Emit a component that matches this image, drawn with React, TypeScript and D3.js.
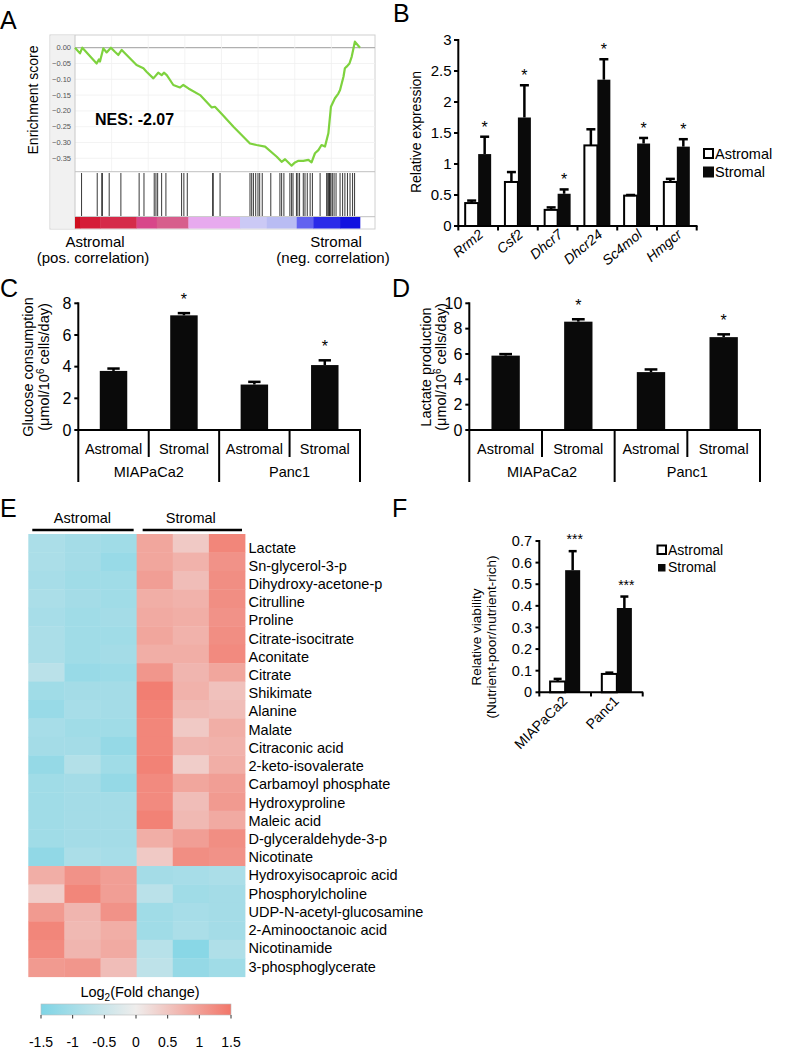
import React from "react";
import * as d3 from "d3";

const FONT = '"Liberation Sans", Arial, Helvetica, sans-serif';

// ---------- Panel A: GSEA ----------
const ES_POINTS: [number, number][] = [
  [0, 0], [1.75, -0.018], [2.57, 0], [7.6, -0.05], [8.42, -0.037], [8.77, -0.044],
  [9.94, -0.002], [11.1, -0.015], [12.6, 0], [14.0, -0.013], [15.2, -0.023], [16.4, -0.007],
  [21.6, -0.055], [24.0, -0.065], [25.1, -0.076], [27.5, -0.097], [29.2, -0.079], [30.4, -0.087],
  [31.2, -0.079], [32.2, -0.087], [34.5, -0.118], [36.8, -0.126], [38.0, -0.118], [39.8, -0.129],
  [43.9, -0.15], [48.0, -0.189], [49.1, -0.187], [51.5, -0.21], [55.6, -0.25], [61.4, -0.303],
  [63.7, -0.308], [66.7, -0.313], [70.8, -0.345], [72.5, -0.361], [73.7, -0.353], [75.4, -0.368],
  [76.0, -0.373], [77.2, -0.363], [78.4, -0.358], [80.1, -0.358], [81.9, -0.355], [83.0, -0.363],
  [84.2, -0.334], [85.4, -0.324], [86.5, -0.308], [87.7, -0.313], [88.9, -0.271], [89.8, -0.187],
  [91.2, -0.16], [92.4, -0.145], [93.0, -0.134], [94.2, -0.092], [94.7, -0.065], [95.3, -0.06],
  [96.3, -0.05], [97.1, -0.028], [98.2, 0.019], [100, 0],
];
const HIT_RANKS = [
  2.3, 7.8, 9.4, 9.6, 12.0, 16.1, 22.5, 24.2, 27.8, 28.4, 29.0, 30.4, 31.9, 37.4, 38.2, 39.4,
  48.3, 48.5, 50.9, 61.4, 62.0, 62.6, 63.4, 64.2, 64.8, 65.7, 68.7, 71.9, 72.5, 73.3, 75.4, 76.0,
  76.5, 77.7, 78.2, 78.8, 80.1, 80.7, 81.5, 82.5, 83.3, 86.0, 88.3, 88.7, 89.0, 89.3, 89.5, 89.8,
  90.3, 90.9, 91.6, 93.0, 93.9, 94.7, 95.6, 96.5, 97.4, 98.1,
];
const RANK_STOPS = [0, 1.75, 8.8, 21.6, 28.7, 39.8, 57.9, 67.3, 77.8, 83.6, 93.0, 100];
const RANK_COLORS = [
  "#cf0f1f", "#d51d38", "#d52b4a", "#d8468a", "#d75e8c", "#e7aaee",
  "#cbc9f5", "#b9bcf3", "#6262f0", "#2a2ae9", "#1212e0",
];
const ES_TICKS = [0, -0.05, -0.1, -0.15, -0.2, -0.25, -0.3, -0.35];
const ES_GRID = [12.85, 25.7, 38.55, 51.4, 64.25, 77.1, 89.95];

// ---------- Panel B ----------
const GENES = ["Rrm2", "Csf2", "Dhcr7", "Dhcr24", "Sc4mol", "Hmgcr"];
const B_ASTROMAL = [0.37, 0.71, 0.26, 1.3, 0.49, 0.71];
const B_ASTROMAL_ERR = [0.04, 0.16, 0.04, 0.26, 0.01, 0.05];
const B_STROMAL = [1.16, 1.75, 0.52, 2.36, 1.33, 1.28];
const B_STROMAL_ERR = [0.28, 0.52, 0.07, 0.33, 0.09, 0.12];
const B_TICKS = [0, 0.5, 1, 1.5, 2, 2.5, 3];

// ---------- Panels C & D ----------
const CONDITIONS = ["Astromal", "Stromal"];
const CELL_LINES = ["MIAPaCa2", "Panc1"];
const GLUCOSE = [3.73, 7.24, 2.87, 4.1];
const GLUCOSE_ERR = [0.15, 0.14, 0.17, 0.3];
const GLUCOSE_SIG = [false, true, false, true];
const GLUCOSE_TICKS = [0, 2, 4, 6, 8];
const LACTATE = [5.87, 8.55, 4.57, 7.33];
const LACTATE_ERR = [0.12, 0.19, 0.21, 0.22];
const LACTATE_SIG = [false, true, false, true];
const LACTATE_TICKS = [0, 2, 4, 6, 8, 10];

// ---------- Panel E ----------
const METABOLITES = [
  "Lactate", "Sn-glycerol-3-p", "Dihydroxy-acetone-p", "Citrulline", "Proline",
  "Citrate-isocitrate", "Aconitate", "Citrate", "Shikimate", "Alanine", "Malate",
  "Citraconic acid", "2-keto-isovalerate", "Carbamoyl phosphate", "Hydroxyproline",
  "Maleic acid", "D-glyceraldehyde-3-p", "Nicotinate", "Hydroxyisocaproic acid",
  "Phosphorylcholine", "UDP-N-acetyl-glucosamine", "2-Aminooctanoic acid",
  "Nicotinamide", "3-phosphoglycerate",
];
const SAMPLES = ["A1", "A2", "A3", "S1", "S2", "S3"];
const FOLD_CHANGE = [
  [-0.9, -1.0, -1.05, 0.9, 0.45, 1.3],
  [-0.9, -1.0, -1.15, 0.9, 0.75, 1.15],
  [-0.95, -1.05, -1.05, 1.0, 0.6, 1.2],
  [-0.9, -1.0, -1.05, 0.8, 0.75, 1.2],
  [-0.95, -1.05, -1.0, 0.85, 0.8, 1.15],
  [-0.9, -1.05, -1.05, 0.9, 0.75, 1.2],
  [-0.9, -1.05, -1.0, 0.8, 0.8, 1.25],
  [-0.7, -1.15, -1.1, 1.1, 0.7, 0.9],
  [-1.05, -1.0, -1.0, 1.4, 0.75, 0.55],
  [-1.15, -0.95, -1.0, 1.35, 0.65, 0.6],
  [-0.95, -1.05, -1.05, 1.3, 0.45, 0.8],
  [-1.0, -1.0, -1.2, 1.3, 0.7, 0.75],
  [-1.2, -0.8, -1.05, 1.35, 0.4, 0.8],
  [-1.05, -1.0, -1.2, 1.25, 0.9, 1.0],
  [-1.05, -1.0, -1.0, 1.25, 0.6, 1.05],
  [-1.05, -1.0, -1.0, 1.35, 0.65, 0.85],
  [-1.05, -1.0, -1.0, 0.8, 1.0, 1.2],
  [-1.25, -0.9, -0.95, 0.45, 1.2, 1.15],
  [0.8, 1.15, 1.0, -1.0, -0.95, -0.9],
  [0.4, 1.3, 1.0, -0.7, -1.05, -1.0],
  [1.05, 0.7, 1.15, -1.05, -0.95, -1.0],
  [1.3, 0.65, 0.8, -1.05, -0.9, -1.0],
  [1.25, 0.7, 0.85, -0.75, -1.35, -0.85],
  [1.05, 1.1, 0.6, -0.65, -1.2, -1.05],
];
const COLOR_TICKS = [-1.5, -1, -0.5, 0, 0.5, 1, 1.5];

// ---------- Panel F ----------
const F_ASTROMAL = [0.05, 0.085];
const F_ASTROMAL_ERR = [0.012, 0.006];
const F_STROMAL = [0.565, 0.39];
const F_STROMAL_ERR = [0.088, 0.053];
const F_TICKS = [0, 0.1, 0.2, 0.3, 0.4, 0.5, 0.6, 0.7];

function ErrBar({ cx, y1, y2, w }: { cx: number; y1: number; y2: number; w: number }) {
  return (
    <g stroke="#000" strokeWidth={2.5}>
      <line x1={cx} x2={cx} y1={y1} y2={y2} />
      <line x1={cx - w / 2} x2={cx + w / 2} y1={y2} y2={y2} />
    </g>
  );
}

function PanelA() {
  const xA = d3.scaleLinear().domain([0, 100]).range([75, 360]);
  const yA = d3.scaleLinear().domain([-0.35, 0]).range([158.3, 47.7]);
  const line = d3.line<[number, number]>().x((d) => xA(d[0])).y((d) => yA(d[1]));
  return (
    <g>
      <rect x={50} y={35} width={325} height={194} fill="#fff" stroke="#d0d0d0" />
      <rect x={50.5} y={35.5} width={24.5} height={193} fill="#f1f1f1" />
      {ES_TICKS.map((t) => (
        <line key={t} x1={75} x2={375} y1={yA(t)} y2={yA(t)} stroke={t === 0 ? "#b0b0b0" : "#f0f0f0"} strokeWidth={t === 0 ? 1.2 : 0.8} />
      ))}
      {ES_GRID.map((g) => (
        <line key={g} x1={xA(g)} x2={xA(g)} y1={36} y2={171} stroke="#f0f0f0" strokeWidth={0.8} />
      ))}
      {ES_TICKS.map((t) => (
        <text key={"l" + t} x={71} y={yA(t)} dy="0.33em" fontSize={7.5} fill="#555" textAnchor="end">
          {t === 0 ? "0.00" : d3.format(".2f")(t)}
        </text>
      ))}
      <line x1={75} x2={75} y1={35} y2={229} stroke="#c8c8c8" />
      <line x1={75} x2={375} y1={171.7} y2={171.7} stroke="#c0c0c0" />
      <line x1={75} x2={375} y1={216.7} y2={216.7} stroke="#c0c0c0" />
      <path d={line(ES_POINTS) || ""} fill="none" stroke="#7ed23e" strokeWidth={2.2} strokeLinejoin="round" />
      {HIT_RANKS.map((r, i) => (
        <line key={i} x1={xA(r)} x2={xA(r)} y1={173} y2={216} stroke="#222" strokeWidth={0.9} />
      ))}
      {RANK_COLORS.map((c, i) => (
        <rect key={i} x={xA(RANK_STOPS[i])} y={217} width={xA(RANK_STOPS[i + 1]) - xA(RANK_STOPS[i]) + 0.3} height={11.5} fill={c} />
      ))}
      <text x={33} y={100} transform="rotate(-90 33 100)" textAnchor="middle" dy="0.35em" fontSize={14}>
        Enrichment score
      </text>
      <text x={95} y={125} fontSize={16} fontWeight="bold">NES: -2.07</text>
      <text x={95} y={247} fontSize={15} textAnchor="middle">Astromal</text>
      <text x={93} y={263} fontSize={15} textAnchor="middle">(pos. correlation)</text>
      <text x={336} y={247} fontSize={15} textAnchor="middle">Stromal</text>
      <text x={333} y={263} fontSize={15} textAnchor="middle">(neg. correlation)</text>
    </g>
  );
}

function PanelB() {
  const x = d3.scaleBand().domain(GENES).range([458.3, 696.7]);
  const sub = d3.scaleBand().domain(CONDITIONS).range([0, x.bandwidth()]).paddingOuter(0.53);
  const y = d3.scaleLinear().domain([0, 3]).range([226, 40]);
  const bw = sub.bandwidth();
  return (
    <g>
      {GENES.map((g, i) => {
        const xa = (x(g) || 0) + (sub("Astromal") || 0);
        const xs = (x(g) || 0) + (sub("Stromal") || 0);
        const errTop = y(B_STROMAL[i] + B_STROMAL_ERR[i]);
        return (
          <g key={g}>
            <rect x={xa} y={y(B_ASTROMAL[i])} width={bw} height={y(0) - y(B_ASTROMAL[i])} fill="#fff" stroke="#000" strokeWidth={2} />
            <ErrBar cx={xa + bw / 2} y1={y(B_ASTROMAL[i])} y2={y(B_ASTROMAL[i] + B_ASTROMAL_ERR[i])} w={9} />
            <rect x={xs} y={y(B_STROMAL[i])} width={bw} height={y(0) - y(B_STROMAL[i])} fill="#0a0a0a" />
            <ErrBar cx={xs + bw / 2} y1={y(B_STROMAL[i])} y2={errTop} w={9} />
            <text x={xs + bw / 2} y={errTop - 4} fontSize={16} textAnchor="middle">*</text>
            <text
              x={(x(g) || 0) + x.bandwidth() / 2 + 6}
              y={236}
              fontSize={14}
              fontStyle="italic"
              textAnchor="end"
              transform={`rotate(-40 ${(x(g) || 0) + x.bandwidth() / 2 + 6} 236)`}
            >
              {g}
            </text>
          </g>
        );
      })}
      <line x1={458.3} x2={458.3} y1={39} y2={227} stroke="#000" strokeWidth={2} />
      <line x1={457.3} x2={697.5} y1={226} y2={226} stroke="#000" strokeWidth={2} />
      {B_TICKS.map((t) => (
        <g key={t}>
          <line x1={454} x2={458.3} y1={y(t)} y2={y(t)} stroke="#000" strokeWidth={2} />
          <text x={451.5} y={y(t)} dy="0.35em" fontSize={15} textAnchor="end">{t}</text>
        </g>
      ))}
      {GENES.concat([""]).map((g, i) => {
        const xx = i < GENES.length ? x(g) || 0 : 696.7;
        return <line key={i} x1={xx} x2={xx} y1={226} y2={230.5} stroke="#000" strokeWidth={2} />;
      })}
      <text x={416} y={132} transform="rotate(-90 416 132)" textAnchor="middle" dy="0.35em" fontSize={14}>
        Relative expression
      </text>
      <rect x={704} y={149} width={9} height={9} fill="#fff" stroke="#000" strokeWidth={2} />
      <text x={715} y={158.5} fontSize={14.5}>Astromal</text>
      <rect x={703} y={166.5} width={11} height={11} fill="#0a0a0a" />
      <text x={715} y={177} fontSize={14.5}>Stromal</text>
    </g>
  );
}

function CategoryPanel(props: {
  x0: number; x1: number; y0: number; yTop: number; max: number; ticks: number[];
  values: number[]; errs: number[]; sig: boolean[]; labelX1: number; labelX2: number;
  label1: string;
}) {
  const { x0, x1, y0, yTop, max, ticks, values, errs, sig, labelX1, labelX2, label1 } = props;
  const cats = CELL_LINES.flatMap((c) => CONDITIONS.map((k) => c + "|" + k));
  const x = d3.scaleBand().domain(cats).range([x0, x1]);
  const y = d3.scaleLinear().domain([0, max]).range([y0, yTop]);
  const bw = x.bandwidth() * 0.39;
  const labelCY = 367;
  return (
    <g>
      {cats.map((c, i) => {
        const cx = (x(c) || 0) + x.bandwidth() / 2;
        const errTop = y(values[i] + errs[i]);
        return (
          <g key={c}>
            <rect x={cx - bw / 2} y={y(values[i])} width={bw} height={y0 - y(values[i])} fill="#0a0a0a" />
            <ErrBar cx={cx} y1={y(values[i])} y2={errTop} w={bw * 0.45} />
            {sig[i] && <text x={cx} y={errTop - 8} fontSize={16} textAnchor="middle">*</text>}
            <text x={cx} y={453.5} fontSize={14.5} textAnchor="middle">{c.split("|")[1]}</text>
            {i % 2 === 0 && (
              <line x1={(x(c) || 0) + x.bandwidth()} x2={(x(c) || 0) + x.bandwidth()} y1={y0} y2={457} stroke="#000" strokeWidth={2} />
            )}
          </g>
        );
      })}
      {CELL_LINES.map((cl, j) => {
        const left = x(cl + "|Astromal") || 0;
        const right = (x(cl + "|Stromal") || 0) + x.bandwidth();
        return (
          <g key={cl}>
            <text x={(left + right) / 2} y={477} fontSize={14.5} textAnchor="middle">{cl}</text>
            {j === 0 && <line x1={left} x2={left} y1={y0} y2={482} stroke="#000" strokeWidth={2} />}
            <line x1={right} x2={right} y1={y0} y2={482} stroke="#000" strokeWidth={2} />
          </g>
        );
      })}
      <line x1={x0} x2={x0} y1={yTop - 1} y2={y0} stroke="#000" strokeWidth={2} />
      <line x1={x0 - 1} x2={x1 + 1} y1={y0} y2={y0} stroke="#000" strokeWidth={2} />
      {ticks.map((t) => (
        <g key={t}>
          <line x1={x0 - 4} x2={x0} y1={y(t)} y2={y(t)} stroke="#000" strokeWidth={2} />
          <text x={x0 - 7} y={y(t)} dy="0.35em" fontSize={16} textAnchor="end">{t}</text>
        </g>
      ))}
      <text x={labelX1} y={labelCY} transform={`rotate(-90 ${labelX1} ${labelCY})`} textAnchor="middle" dy="0.35em" fontSize={14.5}>
        {label1}
      </text>
      <text x={labelX2} y={labelCY} transform={`rotate(-90 ${labelX2} ${labelCY})`} textAnchor="middle" dy="0.35em" fontSize={14.5}>
        (μmol/10<tspan dy="-5" fontSize={10}>6</tspan><tspan dy="5"> cells/day)</tspan>
      </text>
    </g>
  );
}

function PanelE() {
  const x = d3.scaleBand().domain(SAMPLES).range([28.3, 245]);
  const y = d3.scaleBand().domain(METABOLITES).range([534, 976.7]);
  const lab = d3.scalePoint().domain(METABOLITES).range([552.5, 971.5]);
  const color = d3.scaleLinear<string>().domain([-1.5, 0, 1.5]).range(["#7ed4e5", "#efedec", "#f27669"]);
  const cb = d3.scaleLinear().domain([-1.5, 1.5]).range([41, 231]);
  const bw = x.bandwidth();
  return (
    <g>
      <defs>
        <linearGradient id="cbgrad" x1="0" x2="1" y1="0" y2="0">
          {[-1.5, -0.75, 0, 0.75, 1.5].map((v) => (
            <stop key={v} offset={(v + 1.5) / 3} stopColor={color(v)} />
          ))}
        </linearGradient>
      </defs>
      {FOLD_CHANGE.map((row, i) =>
        row.map((v, j) => (
          <rect key={i + "-" + j} x={x(SAMPLES[j])} y={y(METABOLITES[i])} width={bw + 0.4} height={y.bandwidth() + 0.4} fill={color(v)} />
        ))
      )}
      {METABOLITES.map((m) => (
        <text key={m} x={248.5} y={lab(m)} fontSize={14.5}>{m}</text>
      ))}
      <line x1={(x("A1") || 0) + 4} x2={(x("A3") || 0) + bw - 3} y1={530} y2={530} stroke="#000" strokeWidth={2.5} />
      <line x1={(x("S1") || 0) + 6} x2={(x("S3") || 0) + bw - 3} y1={530} y2={530} stroke="#000" strokeWidth={2.5} />
      <text x={((x("A1") || 0) + (x("A3") || 0) + bw) / 2} y={523} fontSize={14.5} textAnchor="middle">Astromal</text>
      <text x={((x("S1") || 0) + (x("S3") || 0) + bw) / 2} y={523} fontSize={14.5} textAnchor="middle">Stromal</text>
      <text x={140} y={997} fontSize={14.5} textAnchor="middle">
        Log<tspan dy="4" fontSize={10}>2</tspan><tspan dy="-4">(Fold change)</tspan>
      </text>
      <rect x={cb(-1.5)} y={1004} width={cb(1.5) - cb(-1.5)} height={11} fill="url(#cbgrad)" stroke="#bbb" strokeWidth={0.6} />
      {COLOR_TICKS.map((t) => (
        <g key={t}>
          <line x1={cb(t)} x2={cb(t)} y1={1015} y2={1018.5} stroke="#333" strokeWidth={1} />
          <text x={cb(t)} y={1047} fontSize={14} textAnchor="middle">{t}</text>
        </g>
      ))}
    </g>
  );
}

function PanelF() {
  const x = d3.scaleBand().domain(CELL_LINES).range([539.3, 642.7]);
  const sub = d3.scaleBand().domain(CONDITIONS).range([0, x.bandwidth()]).paddingOuter(0.72);
  const y = d3.scaleLinear().domain([0, 0.7]).range([692.3, 541]);
  const bw = sub.bandwidth();
  return (
    <g>
      {CELL_LINES.map((c, i) => {
        const xa = (x(c) || 0) + (sub("Astromal") || 0);
        const xs = (x(c) || 0) + (sub("Stromal") || 0);
        const errTop = y(F_STROMAL[i] + F_STROMAL_ERR[i]);
        const cx = (x(c) || 0) + x.bandwidth() / 2 + 3;
        return (
          <g key={c}>
            <rect x={xa} y={y(F_ASTROMAL[i])} width={bw} height={y(0) - y(F_ASTROMAL[i])} fill="#fff" stroke="#000" strokeWidth={2} />
            <ErrBar cx={xa + bw / 2} y1={y(F_ASTROMAL[i])} y2={y(F_ASTROMAL[i] + F_ASTROMAL_ERR[i])} w={8} />
            <rect x={xs} y={y(F_STROMAL[i])} width={bw} height={y(0) - y(F_STROMAL[i])} fill="#0a0a0a" />
            <ErrBar cx={xs + bw / 2} y1={y(F_STROMAL[i])} y2={errTop} w={8} />
            <text x={xs + bw / 2 + 2} y={errTop - 7} fontSize={14} textAnchor="middle">***</text>
            <text x={cx} y={702} fontSize={14} textAnchor="end" transform={`rotate(-45 ${cx} 702)`}>{c}</text>
          </g>
        );
      })}
      <line x1={539.3} x2={539.3} y1={540} y2={693} stroke="#000" strokeWidth={2} />
      <line x1={538.3} x2={643.2} y1={692.3} y2={692.3} stroke="#000" strokeWidth={2} />
      {F_TICKS.map((t) => (
        <g key={t}>
          <line x1={535.5} x2={539.3} y1={y(t)} y2={y(t)} stroke="#000" strokeWidth={2} />
          <text x={532} y={y(t)} dy="0.35em" fontSize={14.5} textAnchor="end">{t}</text>
        </g>
      ))}
      {CELL_LINES.concat([""]).map((c, i) => {
        const xx = i < CELL_LINES.length ? x(c) || 0 : 642.7;
        return <line key={i} x1={xx} x2={xx} y1={692.3} y2={696.5} stroke="#000" strokeWidth={2} />;
      })}
      <text x={476} y={637} transform="rotate(-90 476 637)" textAnchor="middle" dy="0.35em" fontSize={13.5}>
        Relative viability
      </text>
      <text x={491} y={637} transform="rotate(-90 491 637)" textAnchor="middle" dy="0.35em" fontSize={13.5}>
        (Nutrient-poor/nutrient-rich)
      </text>
      <rect x={657.5} y={545.5} width={8.5} height={8.5} fill="#fff" stroke="#000" strokeWidth={2} />
      <text x={668} y={554.5} fontSize={14}>Astromal</text>
      <rect x={658} y={564} width={7.5} height={7.5} fill="#0a0a0a" />
      <text x={668} y={572} fontSize={14}>Stromal</text>
    </g>
  );
}

export default function App() {
  return (
    <svg
      width={796}
      height={1052}
      viewBox="0 0 796 1052"
      style={{ position: "absolute", left: 0, top: 0, background: "#fff" }}
      fontFamily={FONT}
    >
      <rect width={796} height={1052} fill="#fff" />
      <text x={0} y={29} fontSize={25}>A</text>
      <text x={393} y={22} fontSize={25}>B</text>
      <text x={0} y={297} fontSize={25}>C</text>
      <text x={392} y={297} fontSize={25}>D</text>
      <text x={0} y={517} fontSize={25}>E</text>
      <text x={392} y={517} fontSize={25}>F</text>
      <PanelA />
      <PanelB />
      <CategoryPanel
        x0={78.3} x1={360} y0={430} yTop={303.3} max={8} ticks={GLUCOSE_TICKS}
        values={GLUCOSE} errs={GLUCOSE_ERR} sig={GLUCOSE_SIG}
        labelX1={28} labelX2={44} label1="Glucose consumption"
      />
      <CategoryPanel
        x0={469.3} x1={760} y0={430} yTop={303.3} max={10} ticks={LACTATE_TICKS}
        values={LACTATE} errs={LACTATE_ERR} sig={LACTATE_SIG}
        labelX1={426} labelX2={441} label1="Lactate production"
      />
      <PanelE />
      <PanelF />
    </svg>
  );
}
